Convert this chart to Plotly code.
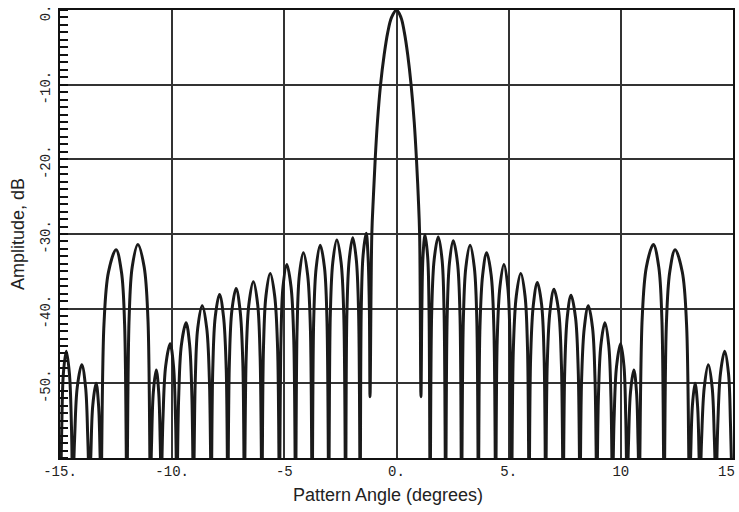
import plotly.graph_objects as go

# Each sidelobe: null, -10 dB shoulder, -3 dB point, peak, -3 dB point, -10 dB shoulder.
# Nulls that fall below the plotted floor are given as -64 (off-scale).
pattern_angle = [
    -14.97, -14.92, -14.85, -14.72, -14.58, -14.49,
    -14.43, -14.35, -14.23, -14.03, -13.86, -13.76,
    -13.69, -13.63, -13.54, -13.39, -13.28, -13.21,
    -13.17, -13.04, -12.84, -12.50, -12.26, -12.12,
    -12.02, -11.92, -11.78, -11.53, -11.25, -11.08,
    -10.97, -10.92, -10.84, -10.71, -10.60, -10.53,
    -10.49, -10.41, -10.29, -10.09, -9.94, -9.85,
    -9.79, -9.71, -9.59, -9.38, -9.22, -9.12,
    -9.05, -8.97, -8.86, -8.66, -8.46, -8.34,
    -8.26, -8.19, -8.08, -7.89, -7.71, -7.59,
    -7.52, -7.45, -7.34, -7.15, -6.97, -6.85,
    -6.78, -6.70, -6.58, -6.38, -6.19, -6.08,
    -6.00, -5.93, -5.82, -5.63, -5.43, -5.30,
    -5.22, -5.15, -5.06, -4.89, -4.70, -4.58,
    -4.50, -4.43, -4.33, -4.15, -3.96, -3.84,
    -3.76, -3.69, -3.58, -3.40, -3.21, -3.10,
    -3.02, -2.95, -2.84, -2.66, -2.47, -2.35,
    -2.27, -2.21, -2.11, -1.95, -1.79, -1.69,
    -1.62, -1.57, -1.49, -1.35, -1.27, -1.21,
    -1.18, -1.10, -1.03, -0.95, -0.85, -0.71, -0.55, -0.39, -0.22, 0.00,
    0.20, 0.35, 0.50, 0.65, 0.79, 0.89, 0.97, 1.03,
    1.09, 1.13, 1.18, 1.27, 1.39, 1.45,
    1.50, 1.57, 1.68, 1.86, 2.03, 2.12,
    2.19, 2.26, 2.36, 2.53, 2.72, 2.83,
    2.90, 2.98, 3.09, 3.28, 3.47, 3.58,
    3.65, 3.72, 3.84, 4.02, 4.22, 4.34,
    4.42, 4.49, 4.61, 4.79, 4.96, 5.06,
    5.13, 5.21, 5.34, 5.54, 5.73, 5.84,
    5.91, 5.98, 6.10, 6.28, 6.47, 6.58,
    6.65, 6.72, 6.84, 7.02, 7.23, 7.35,
    7.43, 7.50, 7.61, 7.78, 7.98, 8.10,
    8.18, 8.25, 8.37, 8.55, 8.74, 8.85,
    8.93, 9.00, 9.11, 9.29, 9.46, 9.56,
    9.63, 9.70, 9.81, 9.99, 10.14, 10.22,
    10.28, 10.34, 10.43, 10.58, 10.70, 10.77,
    10.82, 10.95, 11.14, 11.45, 11.69, 11.83,
    11.93, 12.03, 12.18, 12.42, 12.74, 12.93,
    13.06, 13.11, 13.19, 13.31, 13.42, 13.49,
    13.53, 13.60, 13.72, 13.90, 14.07, 14.17,
    14.24, 14.32, 14.44, 14.63, 14.80, 14.89,
    14.96,
]
pattern_db = [
    -64, -55.7, -48.7, -45.7, -48.7, -55.7,
    -64, -57.5, -50.5, -47.5, -50.5, -57.5,
    -64, -60.0, -53.0, -50.0, -53.0, -60.0,
    -64, -42.1, -35.1, -32.1, -35.1, -42.1,
    -64, -41.4, -34.4, -31.4, -34.4, -41.4,
    -64, -58.2, -51.2, -48.2, -51.2, -58.2,
    -64, -54.7, -47.7, -44.7, -47.7, -54.7,
    -64, -51.9, -44.9, -41.9, -44.9, -51.9,
    -64, -49.6, -42.6, -39.6, -42.6, -49.6,
    -64, -48.1, -41.1, -38.1, -41.1, -48.1,
    -64, -47.3, -40.3, -37.3, -40.3, -47.3,
    -64, -46.4, -39.4, -36.4, -39.4, -46.4,
    -64, -45.3, -38.3, -35.3, -38.3, -45.3,
    -64, -44.1, -37.1, -34.1, -37.1, -44.1,
    -64, -42.5, -35.5, -32.5, -35.5, -42.5,
    -64, -41.5, -34.5, -31.5, -34.5, -41.5,
    -64, -40.8, -33.8, -30.8, -33.8, -40.8,
    -64, -40.5, -33.5, -30.5, -33.5, -40.5,
    -64, -39.9, -32.9, -29.9, -32.9, -39.9,
    -51.8, -30.0, -25.0, -20.0, -15.0, -10.0, -6.0, -3.0, -1.0, 0.0,
    -1.0, -3.0, -6.0, -10.0, -15.0, -20.0, -25.0, -30.0,
    -51.8, -40.1, -33.1, -30.1, -33.1, -40.1,
    -64, -40.4, -33.4, -30.4, -33.4, -40.4,
    -64, -40.9, -33.9, -30.9, -33.9, -40.9,
    -64, -41.5, -34.5, -31.5, -34.5, -41.5,
    -64, -42.5, -35.5, -32.5, -35.5, -42.5,
    -64, -44.1, -37.1, -34.1, -37.1, -44.1,
    -64, -45.3, -38.3, -35.3, -38.3, -45.3,
    -64, -46.5, -39.5, -36.5, -39.5, -46.5,
    -64, -47.4, -40.4, -37.4, -40.4, -47.4,
    -64, -48.2, -41.2, -38.2, -41.2, -48.2,
    -64, -49.6, -42.6, -39.6, -42.6, -49.6,
    -64, -51.9, -44.9, -41.9, -44.9, -51.9,
    -64, -54.7, -47.7, -44.7, -47.7, -54.7,
    -64, -58.2, -51.2, -48.2, -51.2, -58.2,
    -64, -41.4, -34.4, -31.4, -34.4, -41.4,
    -64, -42.1, -35.1, -32.1, -35.1, -42.1,
    -64, -60.0, -53.0, -50.0, -53.0, -60.0,
    -64, -57.5, -50.5, -47.5, -50.5, -57.5,
    -64, -55.7, -48.7, -45.7, -48.7, -55.7,
    -64,
]

x_tick_vals = [-15, -10, -5, 0, 5, 10, 15]
x_tick_text = ["-15.", "-10.", "-5", "0.", "5.", "10", ""]
x_edge_label = "15"
y_tick_vals = [0, -10, -20, -30, -40, -50]
y_tick_text = ["0.", "-10.", "-20.", "-30.", "-40.", "-50."]
x_title = "Pattern Angle (degrees)"
y_title = "Amplitude, dB"

fig = go.Figure(
    go.Scatter(
        x=pattern_angle,
        y=pattern_db,
        mode="lines",
        line=dict(color="#1a1a1a", width=3, shape="spline", smoothing=1.0),
        hoverinfo="skip",
    )
)

tick_font = dict(family="Liberation Mono", size=14, color="#222222")
title_font = dict(family="Liberation Sans", size=18, color="#222222")

fig.update_layout(
    width=739,
    height=512,
    margin=dict(l=60, r=6, t=10, b=54, autoexpand=False),
    paper_bgcolor="white",
    plot_bgcolor="white",
    showlegend=False,
)

fig.add_annotation(
    text=x_edge_label, xref="paper", yref="paper", x=1, y=0,
    xanchor="right", yanchor="top", xshift=4, yshift=-4,
    showarrow=False, font=tick_font,
)
fig.add_annotation(
    text=x_title, xref="paper", yref="paper", x=0.5, y=0,
    xanchor="center", yanchor="middle", xshift=-9, yshift=-37,
    showarrow=False, font=title_font,
)
fig.add_annotation(
    text=y_title, xref="paper", yref="paper", x=0, y=0.5,
    xanchor="center", yanchor="middle", xshift=-42, textangle=-90,
    showarrow=False, font=title_font,
)

common = dict(
    tickfont=tick_font,
    ticks="",
    showgrid=True,
    gridcolor="#333333",
    gridwidth=1.5,
    zeroline=False,
    showline=True,
    linecolor="#111111",
    linewidth=2,
    mirror=True,
    automargin=False,
    ticklabeloverflow="allow",
)

fig.update_xaxes(
    range=[-15, 15],
    tickmode="array",
    tickvals=x_tick_vals,
    ticktext=x_tick_text,
    ticklabelstandoff=-1,
    **common,
)

fig.update_yaxes(
    range=[-60, 0],
    tickmode="array",
    tickvals=y_tick_vals,
    ticktext=y_tick_text,
    tickangle=-90,
    ticklabelstandoff=2,
    ticklabelshift=5,
    minor=dict(tickmode="linear", tick0=0, dtick=1, ticks="inside", ticklen=8,
               tickwidth=1.5, tickcolor="#111111", showgrid=False),
    **common,
)

fig.write_html(
    "out.html",
    config={"displayModeBar": False},
    post_script="document.body.style.margin='0';",
)
